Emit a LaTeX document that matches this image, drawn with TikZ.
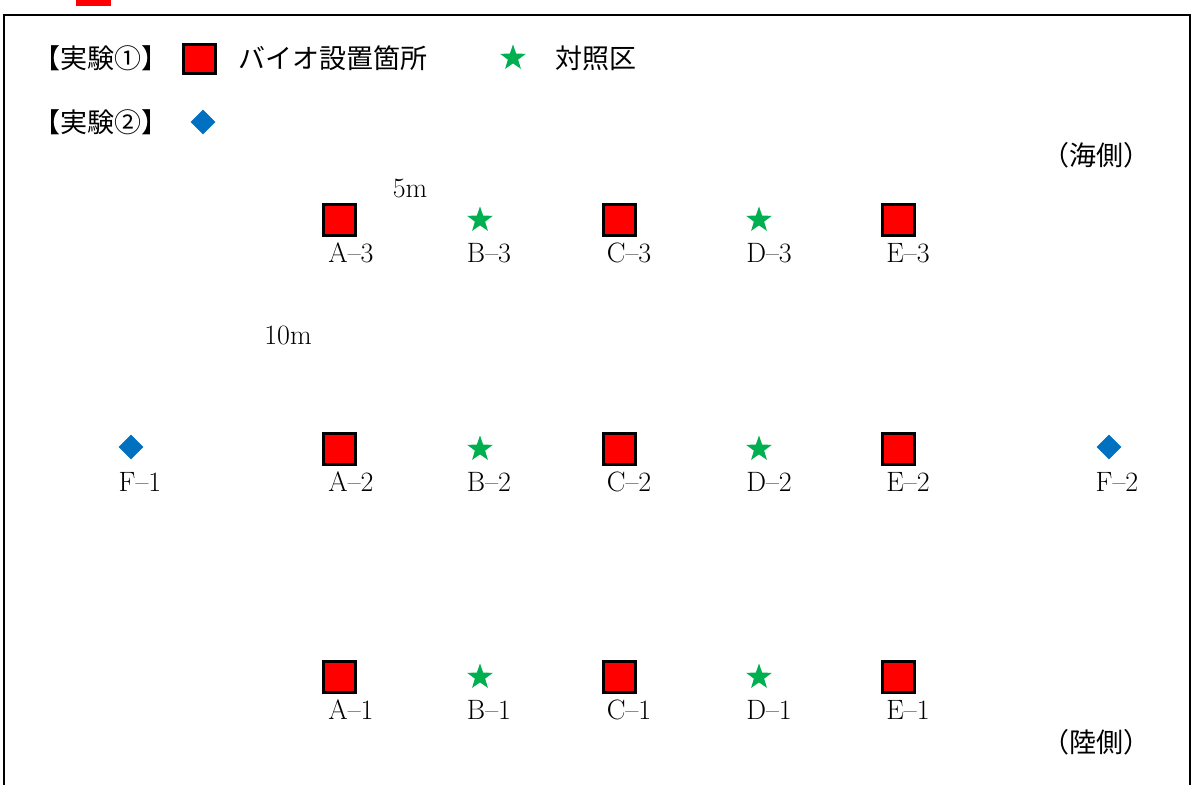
\documentclass[tikz,border=0pt]{standalone}
\usepackage{fontspec}
\newfontfamily\jp{Noto Sans CJK JP}
\usetikzlibrary{shapes.geometric}
\definecolor{sqred}{RGB}{255,0,0}
\definecolor{stargreen}{RGB}{0,176,80}
\definecolor{dblue}{RGB}{0,112,192}
\begin{document}
\begin{tikzpicture}[x=1pt,y=-1pt,
  plot/.style={draw=black,line width=3pt,fill=sqred,minimum width=32pt,minimum height=31pt,inner sep=0},
  ctrl/.style={star,star points=5,star point ratio=2.5,fill=stargreen,minimum size=27pt,inner sep=0},
  exptwo/.style={diamond,fill=dblue,minimum size=25pt,inner sep=0},
  lab/.style={font=\fontsize{28}{28}\selectfont,inner sep=0},
  jtext/.style={font=\jp\fontsize{27}{27}\selectfont,inner sep=0,anchor=west}]
\useasboundingbox (0,0) rectangle (1193,784);
\clip (0,0) rectangle (1193,784);
% cut-off strip at top
\fill[sqred] (76,-10) rectangle (111,6);
% frame
\draw[line width=2.5pt] (4,15) rectangle (1190,800);
% legend
\node[jtext] (exp1) at (33,58) {【実験①】};
\node[plot,minimum height=28pt] (legsq) at (199,59) {};
\node[jtext] (legsqt) at (238,58) {バイオ設置箇所};
\node[ctrl] (legst) at (513,58) {};
\node[jtext] (legstt) at (555,58) {対照区};
\node[jtext] (exp2) at (33,122) {【実験②】};
\node[exptwo] (legdi) at (203,122) {};
\node[jtext] (sea) at (1042,155) {（海側）};
\node[jtext] (land) at (1042,742) {（陸側）};
\node[lab] (d5) at (410,188) {5m};
\node[lab] (d10) at (288,335) {10m};
% plots
\foreach \r/\y in {3/220,2/449,1/677}{
  \node[plot] (A\r) at (339,\y) {};
  \node[ctrl] (B\r) at (480,\y) {};
  \node[plot] (C\r) at (619,\y) {};
  \node[ctrl] (D\r) at (759,\y) {};
  \node[plot] (E\r) at (898,\y) {};
  \node[lab] (lA\r) at (351,\y+33) {A--\r};
  \node[lab] (lB\r) at (489,\y+33) {B--\r};
  \node[lab] (lC\r) at (629,\y+33) {C--\r};
  \node[lab] (lD\r) at (769,\y+33) {D--\r};
  \node[lab] (lE\r) at (908,\y+33) {E--\r};
}
\node[exptwo] (F1) at (131,447) {};
\node[lab] (lF1) at (140,482) {F--1};
\node[exptwo] (F2) at (1109,447) {};
\node[lab] (lF2) at (1117,482) {F--2};
\end{tikzpicture}
\end{document}
